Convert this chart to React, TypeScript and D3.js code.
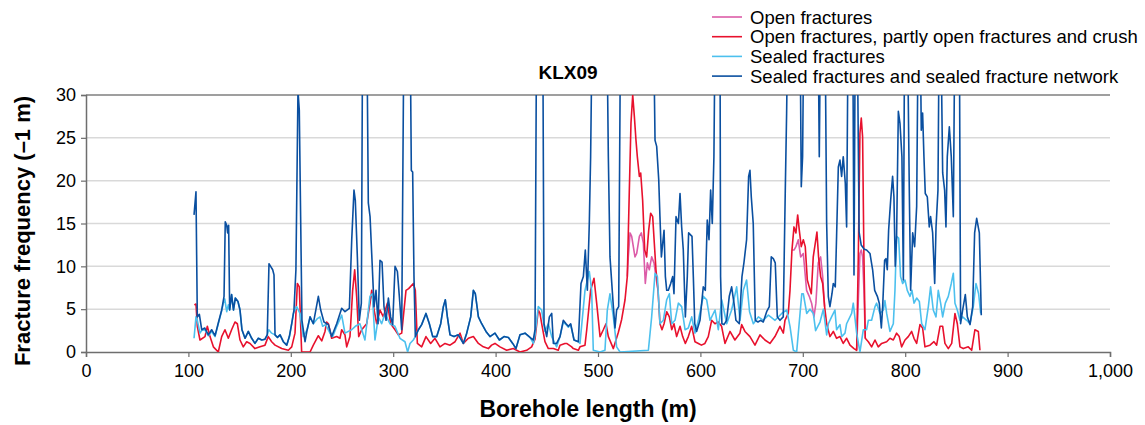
import React, { useRef, useEffect } from 'react';
import * as d3 from 'd3';

// borehole length (m), fracture frequency
const sealedNetwork: [number, number][] = [
  [105.5,16.0],[107.4,18.7],[108.7,4.1],[110.7,4.4],[113,2.6],[116,2.8],[119.5,2.0],[122.7,2.6],[126,1.9],[129,3.3],
  [132.5,4.9],[134.8,6.5],[136,15.2],[137.4,14.8],[138.3,13.9],[139.3,14.8],[140.3,4.9],[142.2,6.7],[144,4.9],[145.8,6.3],
  [148.4,5.9],[150.4,4.9],[152.3,2.6],[155.3,1.6],[158.5,2.4],[161.8,1.6],[165,1.0],[168.3,1.6],[171.6,1.4],[174.8,1.5],
  [177,2.0],[178.7,10.3],[180.3,10.0],[182.3,9.6],[183.6,9.0],[184.6,2.0],[187,1.7],[189.5,2.0],[192.7,1.2],[196,0.8],
  [198.6,1.8],[200.9,3.3],[203.1,4.9],[205,9.6],[207,30.5],[208.3,28.2],[209.6,15.8],[210.9,3.7],[213.9,1.2],[216,2.6],
  [218.8,4.1],[222,3.3],[226.9,6.5],[229.2,4.9],[232.4,3.5],[236.7,3.2],[239.9,1.8],[244.8,3.3],[249.7,5.1],[252.9,4.7],
  [257.2,5.1],[259.5,13.1],[261.7,18.9],[263,17.7],[265,11.1],[266.9,3.7],[268.9,5.7],[270.2,40],[274.1,40],[275.7,17.4],
  [277.4,15.8],[279,11.5],[281.3,5.3],[283.2,7.2],[285.2,3.3],[287.1,10.7],[289.1,10.5],[291,5.3],[293,3.7],[295.3,6.3],
  [297.5,4.1],[299.5,3.2],[301.8,10.0],[304.1,9.4],[306,6.5],[308.3,2.6],[310.6,40],[316.4,40],[317.7,21.2],[319,21],
  [320.3,8.8],[321.6,1.8],[324.6,2.6],[327.8,3.2],[332,4.5],[335.3,3.3],[338.6,1.8],[342.5,1.8],[346.4,3.3],[349,5.3],
  [350.9,6.1],[352.9,4.1],[355.5,2.0],[359.4,1.8],[363.6,2.0],[368.5,1.0],[371.8,2.2],[375.7,4.1],[378.3,7.2],[380.2,6.8],
  [383.2,4.1],[386.4,3.3],[390.6,2.4],[394.5,1.8],[399.4,2.2],[403.7,1.4],[408.2,1.8],[412.5,1.7],[416.7,1.0],[419.9,0.4],
  [423.8,2.0],[428.7,2.2],[433.6,1.7],[436.8,1.4],[438.5,2.6],[440.1,40],[446,40],[447.3,3.3],[449.9,1.8],[452.5,4.1],
  [454.8,4.5],[456.4,1.0],[459.6,1.0],[462.9,1.8],[466.1,3.7],[468.8,3.3],[471,3.0],[473.3,3.3],[476.6,1.4],[480.8,1.2],
  [483.4,8.0],[485.7,8.8],[487.6,11.9],[489.6,7.2],[491.5,15.0],[492.8,22.8],[494.5,40],[508.5,40],[510.1,22.8],[511.7,11.1],
  [515,5.3],[516.6,2.8],[518.2,4.9],[520.2,5.3],[522.1,40],[554,40],[555.7,24.7],[557.3,24],[559.3,20.1],[560.5,15.8],
  [561.9,11.1],[563.2,12.7],[564.5,14.2],[565.8,8.8],[567.1,7.2],[568.7,7.2],[571,8.0],[572.9,8.8],[574.2,6.8],[576.2,15.8],
  [578.5,15.0],[580.1,18.5],[581.7,14.6],[583.3,11.9],[585.3,4.1],[587.2,8.8],[588.5,13.9],[591.8,13.5],[593.1,8.8],[594.5,3.3],
  [596.3,2.4],[599.6,3.7],[602.8,7.6],[604.8,7.2],[606.7,15.4],[608.4,13.1],[610,18.9],[611.6,15.0],[613.2,22.8],[614.5,40],
  [619.1,40],[619.7,8.8],[621,3.3],[623,3.2],[625.6,3.7],[628.2,6.5],[630.5,7.6],[632.8,5.7],[634.7,3.7],[638,3.3],
  [640.6,8.8],[642.5,10.4],[645.1,13.1],[647.1,20.5],[648.4,21.2],[649.7,18.1],[651.6,15.0],[653.6,3.7],[656.2,3.5],[658.8,3.7],
  [661.4,3.5],[664.7,4.7],[667.3,5.3],[669.2,11.1],[671.2,10.9],[673.1,10.4],[675.1,4.1],[677.7,3.7],[680.9,4.1],[682.9,18.9],
  [684.2,27.9],[685.5,40],[697.2,40],[698.5,19.3],[699.8,22.8],[701.1,40],[714.8,40],[716.1,22.8],[717.4,40],[721.6,40],
  [723.3,15.0],[724.9,6.5],[726.5,5.3],[728.5,6.8],[729.8,8.0],[731.7,7.6],[733,13.5],[734.7,21.6],[736.3,22.4],[737.9,20.5],
  [739.5,22.8],[741.5,19.7],[742.8,14.6],[744.4,40],[748.7,40],[750,9],[751.3,40],[753,40],[755,14],[757,12.5],
  [760,12],[762.3,11.9],[765.6,11.5],[768.2,9.6],[770.2,7.2],[772.8,6.5],[774.7,5.7],[776.7,2.8],[778,5.3],[779.9,10.7],
  [781.2,10.9],[782.5,9.6],[783.8,14.2],[785.8,17.7],[787.7,20.5],[789,18.1],[790.3,10.0],[791.6,13.5],[793.3,28.1],[794.9,26.7],
  [796.8,22.8],[798.2,8.4],[799.5,40],[802,40],[804,18.9],[805.3,7.2],[807.3,13.9],[809.2,12.3],[811.2,17],[812.8,40],
  [814.4,40],[815.7,25.9],[817,27.9],[818.3,22.8],[819.6,18.5],[821.6,18.1],[823.5,14.6],[824.8,15.8],[826.8,13.9],[828.8,8.0],
  [830.1,14.6],[832,18.9],[833.3,40],[834.6,40],[836.6,20.9],[838.5,18.9],[839.8,14.6],[841.1,22.8],[843.1,26.3],[845,22.8],
  [847,15.8],[848.6,40],[852.8,40],[854.1,3.3],[856.1,4.9],[858.7,6.7],[860.7,4.1],[863.3,3.2],[865.9,5.3],[867.8,13.9],
  [869.8,15.6],[872.4,13.9],[874.3,4.3],
];

const sealed: [number, number][] = [
  [105.5,1.6],[107.4,4.1],[108.7,3.7],[111.3,2.2],[113,2.5],[116,2.6],[119.5,1.9],[122.7,2.4],[126,1.8],[129,3.2],
  [132.5,4.8],[134.1,5.7],[135.5,6.2],[137.4,4.7],[139,5.5],[140.3,4.9],[142.2,6.7],[144,4.9],[145.8,6.3],[148.4,5.9],
  [150.4,4.9],[152.3,2.6],[155.3,1.6],[158.5,2.4],[161.8,1.6],[165,1.0],[168.3,1.6],[171.6,1.4],[174.8,1.5],[177,2.0],
  [178.5,2.6],[181.3,2.2],[184.6,2.0],[187,1.7],[189.5,2.0],[192.7,1.2],[196,0.8],[198.6,1.8],[200.9,3.3],[202.5,4.5],
  [205.7,5.3],[209,4.5],[212.2,1.8],[216,2.6],[218.8,4.1],[222,3.3],[226,3.9],[228.5,4.1],[231.1,3.0],[234,3.2],
  [238.3,2.2],[241,1.8],[244.8,3.0],[249.7,4.3],[252.9,2.2],[259.4,2.6],[263,3.0],[267.5,3.3],[272.4,1.4],[277.3,6.5],
  [279.6,6.8],[282.2,1.4],[285.5,4.1],[288.7,3.3],[292,4.5],[296.8,3.3],[301.7,3.0],[306.6,1.6],[311.5,1.2],[314.1,0],
  [316.4,1.0],[319.6,1.4],[321.6,1.8],[324.6,2.6],[327.8,3.2],[332,4.5],[335.3,3.3],[338.6,1.8],[342.5,1.8],[346.4,3.3],
  [349,5.3],[350.9,6.1],[352.9,4.1],[355.5,2.0],[359.4,1.8],[363.6,2.0],[368.5,1.0],[371.8,2.2],[375.7,4.1],[378.3,7.2],
  [380.2,6.8],[383.2,4.1],[386.4,3.3],[390.6,2.4],[394.5,1.8],[399.4,2.2],[403.7,1.4],[408.2,1.8],[412.5,1.7],[416.7,1.0],
  [419.9,0.4],[423.8,2.0],[428.7,2.2],[433.6,1.7],[436.9,1.0],[438.5,2.0],[441.7,5.3],[445,4.9],[448.2,2.4],[451.5,3.3],
  [454.8,1.8],[459.6,0.6],[462.9,1.8],[466.1,3.5],[468.8,3.2],[471,2.9],[473.3,3.2],[476.6,1.4],[480.8,1.2],[482.4,1.0],
  [487.3,7.2],[491.5,9.4],[493.8,7.2],[495.4,0.2],[502,0],[506.8,0.2],[509.1,4.9],[511.7,6.8],[515,4.1],[518.2,0.6],
  [521.5,0],[549.2,0.2],[552.4,4.1],[555.7,9.2],[558,8.8],[560.5,3.3],[563.8,3.7],[567.1,6.1],[569.7,6.8],[572,3.3],
  [575.2,3.7],[578.5,5.7],[581.7,5.3],[585,2.6],[588.2,2.8],[591.5,4.1],[594.7,2.2],[598,3.7],[602.8,6.5],[606.1,6.1],
  [609.4,3.7],[614.3,4.9],[617.5,2.6],[620.8,6.1],[625.7,3.3],[630.5,4.9],[635.4,7.6],[638.7,3.7],[641.9,7.2],[645.1,8.4],
  [648,4.7],[651.7,3.3],[656.6,4.1],[661.5,3.7],[666.4,4.3],[672.9,3.7],[679.4,4.5],[684.3,4.9],[687.5,3.0],[690.8,0.2],
  [694,0],[697.3,4.5],[699,6.8],[700.5,6.8],[703.8,4.5],[707,5.0],[710.3,4.5],[712.5,2.5],[716.8,3.5],[720.1,5.0],
  [723.3,2.0],[725,3.3],[728.1,4.1],[731.4,4.9],[733,2.6],[736.3,3.2],[738,1.8],[741.2,2.2],[742.8,3.3],[747.7,4.5],
  [749.3,5.7],[752.6,2.2],[755.8,0],[759.1,2.6],[762.3,2.6],[764,3.7],[767.2,3.7],[770.5,5.3],[772.1,5.7],[775.3,4.5],
  [778.6,4.9],[780.2,6.0],[781.9,4.5],[785.1,2.4],[788.4,3.3],[790,7.2],[791.6,13.5],[793.6,13.3],[795.5,8.8],[797.5,8.0],
  [799.8,8.4],[802,7.2],[804.7,6.5],[806.6,7.2],[808.6,5.7],[811.2,6.3],[813.8,5.9],[816.1,3.3],[819.3,2.6],[822.6,5.3],
  [824.8,7.6],[827.4,4.9],[830.1,4.1],[832.3,7.2],[834.6,5.7],[836.6,4.1],[839.2,5.7],[842.1,6.5],[845,8.0],[847,9.2],
  [848.6,5.7],[850.9,4.9],[853.5,3.7],[856.1,4.1],[860,3.7],[863.3,3.3],[866.5,5.3],[869.1,8.0],[871.7,6.8],[873.7,4.5],
];

const openPartlyCrush: [number, number][] = [
  [105.8,5.5],[107.4,5.6],[108.7,3.0],[111.3,1.4],[116.2,1.8],[118.5,3.0],[121.1,1.8],[124.4,0.6],[129.2,0],[132.5,1.8],
  [135.7,2.6],[139,1.6],[142.2,2.6],[145.5,3.5],[147.8,3.3],[150.4,1.4],[153.6,0.6],[156.9,1.2],[160.2,1.0],[165,0.4],
  [169.9,0.6],[174.8,0.8],[178,1.8],[181.3,1.2],[184.6,0.8],[191.1,0.4],[197.6,0.2],[200.9,0.6],[204.1,2.2],[206.4,8.0],
  [208.3,7.6],[210.6,0],[218.8,0],[222,0.8],[226.9,1.9],[230.2,1.3],[233.4,2.4],[235,3.5],[236.7,3.3],[239.9,1.6],
  [244.8,1.8],[248,1.6],[249.7,2.6],[252.9,2.0],[254.6,0.6],[257.8,1.8],[260.4,7.2],[262.4,9.6],[264.3,6.5],[266.3,1.8],
  [269.2,2.6],[274.1,3.3],[277.4,5.7],[279,7.2],[281.3,4.9],[283.9,3.3],[287.1,4.9],[290.4,4.1],[294.3,5.7],[297.5,3.3],
  [301.8,2.6],[305,2.0],[308.3,2.2],[312.5,7.2],[315.1,7.4],[319.7,8.0],[321.6,7.2],[323.6,1.0],[327.8,0.6],[332,1.8],
  [336.6,1.0],[340.8,1.6],[345.7,0.6],[350.6,1.0],[355.5,0.8],[360.4,1.2],[365.3,2.2],[368.5,1.0],[373.4,1.6],[378.3,1.8],
  [383.2,1.0],[388,0.6],[392.9,0.4],[396.1,0.8],[399.4,1.0],[404.3,0.6],[410.8,0.2],[417.3,0.4],[423.8,0],[430.3,0.2],
  [435.2,0.6],[438.5,1.5],[441.7,4.9],[443.3,4.5],[445,3.3],[448.2,1.2],[451.5,0.4],[456.4,0.4],[461.2,0.2],[462.9,0.8],
  [467.7,1.0],[469.4,1.0],[474.3,0.6],[475.9,0.4],[480.8,0.2],[482.4,0.6],[487.3,0.8],[489,2.6],[492.8,7.2],[496.1,8.6],
  [498.7,5.7],[502,1.8],[505.2,2.6],[507.8,3.3],[510.1,1.8],[515,0.4],[519.9,2.3],[523.1,3.8],[526.4,6.1],[528.6,8.8],
  [530.6,18.9],[532.2,26.7],[533.9,30],[535.5,27.5],[537.1,24.7],[538.4,22.8],[540.4,20.5],[541.7,20.9],[543.6,17.7],[545.6,11.9],
  [547.5,11.1],[549.5,14.2],[551.4,16.2],[553.4,15.8],[555,12.7],[556.6,9.6],[558.6,7.2],[560.5,3.3],[562.5,2.6],[564.5,3.3],
  [567.1,4.7],[569.7,4.1],[572,2.6],[574.2,3.3],[576.8,1.8],[580.1,3.0],[582.7,1.8],[585.3,1.0],[588.2,1.8],[591.5,3.0],
  [594.7,1.2],[598,1.0],[601,0.8],[604.4,1.0],[607.7,1.8],[611,3.7],[614.2,3.3],[617.5,3.5],[620.7,3.0],[624,1.0],
  [628.9,2.4],[633.7,1.4],[638.6,2.2],[640.3,3.2],[643.5,2.4],[648.4,1.8],[653.3,0.8],[658.2,2.0],[663,1.4],[667.9,1.0],
  [672.8,1.8],[677.7,3.0],[681,2.2],[682.6,3.7],[685.8,4.5],[687.5,7.2],[689.4,11.9],[691.4,14.6],[693.3,13.9],[695,16.0],
  [696.6,14.2],[698.5,12.3],[700.5,13.1],[702.4,12.3],[704.4,8.4],[706.3,7.6],[708.3,6.8],[710.2,11.1],[712.2,12.7],[713.8,14.0],
  [715.4,11.1],[717.4,8.8],[719.4,8.0],[721.3,5.3],[723.3,3.3],[726.5,1.8],[729.8,2.4],[733,1.6],[736.3,1.8],[739.5,1.0],
  [742.8,1.6],[746.1,0.8],[750,0.4],[752.6,0.2],[754.2,11.1],[755.8,25.5],[757.1,27.3],[758.4,25.1],[759.7,11.1],[761,1.6],
  [764,1.2],[767.2,0.6],[770.5,1.4],[773.7,0.6],[777,1.0],[781.9,1.2],[785.1,1.6],[788.4,1.4],[791.6,2.2],[794.2,1.8],
  [796.5,0.6],[799.8,1.4],[803,1.8],[806.3,2.4],[808.6,1.6],[811.2,1.0],[814.4,3.2],[817,2.8],[819.3,0.6],[824.2,0.8],
  [828.1,1.2],[830.7,0.8],[834,3.0],[836.6,3.0],[838.8,1.0],[842.1,0.4],[845.4,1.0],[848.6,4.5],[850.9,3.3],[853.5,0.6],
  [856.7,0.4],[861.6,0.6],[864.9,0.2],[868.1,2.6],[871.4,2.4],[873,0.2],
];

// open fractures: only where it departs from the red series (elsewhere it lies underneath)
const openOnly: [number, number][][] = [
  [[528.6,8.8],[529.6,11.1],[531.3,13.9],[532.9,13.5],[534.5,12.3],[536.1,11.1],[537.8,11.5],[540.4,13.5],[542.3,13.9],
   [544.3,12.7],[546.2,8.0],[548.2,10.4],[550.1,9.6],[552.4,11.1],[554.7,10.4],[556.6,8.8],[558.6,7.2]],
  [[689.4,11.9],[691.4,11.9],[693.3,12.3],[695.6,13.1],[697.9,11.1],[700.5,11.5],[703.7,7.2],[706.3,6.5],[708.6,5.7],
   [710.9,4.1],[712.8,5.7],[715.1,10.4],[717.4,11.1],[719.4,8.8],[721.3,5.3]],
  [[752.6,0.2],[754.2,6],[755.8,11.5],[757.1,11.9],[758.4,11.1],[759.7,7.2],[761,1.6]],
];

const seriesNames = [
  'Open fractures',
  'Open fractures, partly open fractures and crush',
  'Sealed fractures',
  'Sealed fractures and sealed fracture network',
];
const seriesColors = ['#dc5ca8', '#e8112d', '#4cc0ee', '#0a4fa0'];
const xTicks = [0, 100, 200, 300, 400, 500, 600, 700, 800, 900, 1000];
const yTicks = [0, 5, 10, 15, 20, 25, 30];

const App = () => {
  const ref = useRef<SVGSVGElement>(null);

  useEffect(() => {
    const width = 1145;
    const height = 425;
    const left = 86, right = 1110, top = 95, bottom = 352;
    const font = 'Arial, "Liberation Sans", sans-serif';

    const x = d3.scaleLinear().domain([0, 1000]).range([left, right]);
    const y = d3.scaleLinear().domain([0, 30]).range([bottom, top]);

    const svg = d3.select(ref.current);
    svg.selectAll('*').remove();
    svg.attr('width', width).attr('height', height).attr('viewBox', [0, 0, width, height].join(' '));

    svg.append('defs').append('clipPath').attr('id', 'plotClip')
      .append('rect').attr('x', left).attr('y', top).attr('width', right - left).attr('height', bottom - top);

    // gridlines
    svg.append('g').selectAll('line').data(yTicks.filter(t => t > 0 && t < 30)).join('line')
      .attr('x1', left).attr('x2', right)
      .attr('y1', d => y(d)).attr('y2', d => y(d))
      .attr('stroke', '#d9d9d9').attr('stroke-width', 1.5);

    svg.append('line').attr('x1', left).attr('x2', right).attr('y1', y(30)).attr('y2', y(30))
      .attr('stroke', '#7f7f7f').attr('stroke-width', 1.5);

    // axes
    const yAxis = svg.append('g').attr('transform', `translate(${left},0)`)
      .call(d3.axisLeft(y).tickValues(yTicks).tickSize(5).tickPadding(5));
    const xAxis = svg.append('g').attr('transform', `translate(0,${bottom})`)
      .call(d3.axisBottom(x).tickValues(xTicks).tickSize(5).tickPadding(7)
        .tickFormat(d => d3.format(',')(d as number)));
    [yAxis, xAxis].forEach(a => {
      a.select('.domain').attr('stroke', '#6e6e6e').attr('stroke-width', 1.5);
      a.selectAll('.tick line').attr('stroke', '#6e6e6e').attr('stroke-width', 1.2);
      a.selectAll('.tick text').attr('font-family', font).attr('font-size', 18).attr('fill', '#000');
    });

    // series
    const lineGen = d3.line<[number, number]>().x(d => x(d[0])).y(d => y(d[1]));
    const plot = svg.append('g').attr('clip-path', 'url(#plotClip)')
      .attr('fill', 'none').attr('stroke-width', 1.6).attr('stroke-linejoin', 'round');

    plot.selectAll('path.open').data(openOnly).join('path').attr('class', 'open')
      .attr('d', d => lineGen(d)).attr('stroke', seriesColors[0]);
    plot.append('path').attr('d', lineGen(openPartlyCrush)).attr('stroke', seriesColors[1]);
    plot.append('path').attr('d', lineGen(sealed)).attr('stroke', seriesColors[2]);
    plot.append('path').attr('d', lineGen(sealedNetwork)).attr('stroke', seriesColors[3]);

    // titles
    svg.append('text').text('KLX09').attr('x', 568).attr('y', 79)
      .attr('text-anchor', 'middle').attr('font-family', font).attr('font-size', 19).attr('font-weight', 'bold');
    svg.append('text').text('Borehole length (m)').attr('x', 588).attr('y', 417)
      .attr('text-anchor', 'middle').attr('font-family', font).attr('font-size', 23).attr('font-weight', 'bold');
    svg.append('text').text('Fracture frequency (–1 m)')
      .attr('transform', `translate(30,231) rotate(-90)`)
      .attr('text-anchor', 'middle').attr('font-family', font).attr('font-size', 22).attr('font-weight', 'bold');

    // legend
    const legend = svg.append('g').attr('transform', 'translate(712,17)');
    const items = legend.selectAll('g').data(seriesNames).join('g')
      .attr('transform', (d, i) => `translate(0,${i * 19.7})`);
    items.append('line').attr('x1', 0).attr('x2', 30).attr('y1', 0).attr('y2', 0)
      .attr('stroke', (d, i) => seriesColors[i]).attr('stroke-width', 1.6);
    items.append('text').text(d => d).attr('x', 38).attr('y', 6.5)
      .attr('font-family', font).attr('font-size', 18.5).attr('fill', '#000');
  }, []);

  return <svg ref={ref} style={{ position: 'absolute', left: 0, top: 0 }} />;
};

export default App;
